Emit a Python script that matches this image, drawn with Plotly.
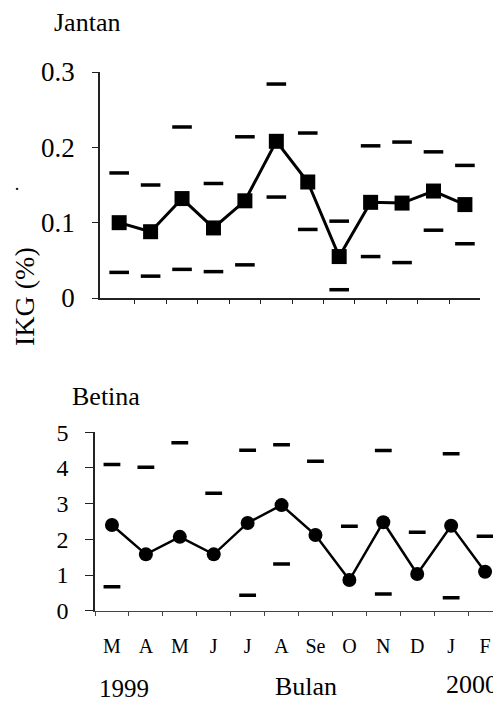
import plotly.graph_objects as go

months = ["M", "A", "M", "J", "J", "A", "Se", "O", "N", "D", "J", "F"]

# Jantan (male) IKG %
jantan_mean = [0.100, 0.088, 0.132, 0.093, 0.129, 0.208, 0.154, 0.055, 0.127, 0.126, 0.142, 0.124]
jantan_upper = [0.166, 0.150, 0.227, 0.152, 0.214, 0.284, 0.219, 0.102, 0.202, 0.207, 0.194, 0.176]
jantan_lower = [0.034, 0.029, 0.038, 0.035, 0.044, 0.134, 0.091, 0.011, 0.055, 0.047, 0.090, 0.072]

# Betina (female) IKG %
betina_mean = [2.40, 1.58, 2.07, 1.58, 2.46, 2.96, 2.12, 0.86, 2.48, 1.03, 2.38, 1.09]
betina_upper = [4.10, 4.02, 4.71, 3.29, 4.50, 4.65, 4.19, 2.37, 4.49, 2.20, 4.40, 2.09]
betina_lower = [0.67, None, None, None, 0.43, 1.31, None, None, 0.47, None, 0.36, None]

# page body has an 8px margin: the figure is drawn offset by (8, 8)
OFF = 8
W, H = 501 - OFF, 702 - OFF
def fx(px): return (px - OFF) / W
def fy(py): return 1 - (py - OFF) / H

FONT = "Liberation Serif"
idx = list(range(len(months)))

fig = go.Figure()

# top panel
fig.add_trace(go.Scatter(x=idx, y=jantan_mean, mode="lines+markers",
                         line=dict(color="black", width=3),
                         marker=dict(symbol="square", size=15, color="black"),
                         xaxis="x", yaxis="y", showlegend=False))
for arr in (jantan_upper, jantan_lower):
    fig.add_trace(go.Scatter(x=idx, y=arr, mode="markers",
                             marker=dict(symbol="line-ew", size=14,
                                         line=dict(color="black", width=3.5)),
                             xaxis="x", yaxis="y", showlegend=False))

# bottom panel
fig.add_trace(go.Scatter(x=idx, y=betina_mean, mode="lines+markers",
                         line=dict(color="black", width=2.5),
                         marker=dict(symbol="circle", size=14, color="black"),
                         xaxis="x2", yaxis="y2", showlegend=False))
for arr in (betina_upper, betina_lower):
    fig.add_trace(go.Scatter(x=idx, y=arr, mode="markers",
                             marker=dict(symbol="line-ew", size=12,
                                         line=dict(color="black", width=3.5)),
                             xaxis="x2", yaxis="y2", showlegend=False))

axis_common = dict(showgrid=False, zeroline=False, linecolor="#222",
                   tickcolor="#222", color="black", automargin=False)

fig.update_layout(
    width=W, height=H,
    margin=dict(l=0, r=0, t=0, b=0, pad=0),
    paper_bgcolor="white", plot_bgcolor="white",
    font=dict(family=FONT, color="black"),
    xaxis=dict(domain=[fx(100), fx(480)], range=[-0.61, 11.48], anchor="y",
               showline=True, linewidth=1.5, showticklabels=False,
               tickmode="array", tickvals=[i + 0.5 for i in range(11)],
               ticks="outside", ticklen=4, **axis_common),
    yaxis=dict(domain=[fy(298), fy(72)], range=[0, 0.3], anchor="x",
               showline=True, linewidth=1.5,
               tickmode="array", tickvals=[0, 0.1, 0.2, 0.3],
               ticktext=["0", "0.1", "0.2", "0.3"],
               ticks="outside", ticklen=6, ticklabelstandoff=12,
               tickfont=dict(size=27, family=FONT), **axis_common),
    xaxis2=dict(domain=[fx(95), 1.0], range=[-0.5, 11.47], anchor="y2",
                showline=True, linewidth=1, linecolor="#444",
                tickmode="array", tickvals=idx, ticktext=months,
                ticks="", ticklabelstandoff=17,
                minor=dict(tick0=0.5, dtick=1, ticks="outside", ticklen=4,
                           tickcolor="#444", showgrid=False),
                tickfont=dict(size=20, family=FONT),
                **{k: v for k, v in axis_common.items() if k != "linecolor"}),
    yaxis2=dict(domain=[fy(610.7), fy(432.3)], range=[0, 5], anchor="x2",
                showline=True, linewidth=1.5,
                tickmode="array", tickvals=[0, 1, 2, 3, 4, 5],
                ticks="outside", ticklen=8, ticklabelstandoff=12,
                tickfont=dict(size=24, family=FONT), **axis_common),
)

ann = [
    dict(text="Jantan", x=fx(52), y=fy(22), xanchor="left", yanchor="middle", size=26),
    dict(text="Betina", x=fx(70), y=fy(397), xanchor="left", yanchor="middle", size=26),
    dict(text="1999", x=fx(97), y=fy(688), xanchor="left", yanchor="middle", size=25),
    dict(text="Bulan", x=fx(306), y=fy(686), xanchor="center", yanchor="middle", size=26),
    dict(text="2000", x=fx(500), y=fy(684), xanchor="right", yanchor="middle", size=26),
    dict(text="·", x=fx(17), y=fy(189), xanchor="center", yanchor="middle", size=18),
]
for a in ann:
    fig.add_annotation(text=a["text"], x=a["x"], y=a["y"], xref="paper", yref="paper",
                       xanchor=a["xanchor"], yanchor=a["yanchor"], showarrow=False,
                       font=dict(family=FONT, size=a["size"], color="black"))
fig.add_annotation(text="IKG (%)", x=fx(24), y=fy(297), xref="paper", yref="paper",
                   textangle=-90, showarrow=False, xanchor="center", yanchor="middle",
                   font=dict(family=FONT, size=28, color="black"))

fig.write_html("out.html")
